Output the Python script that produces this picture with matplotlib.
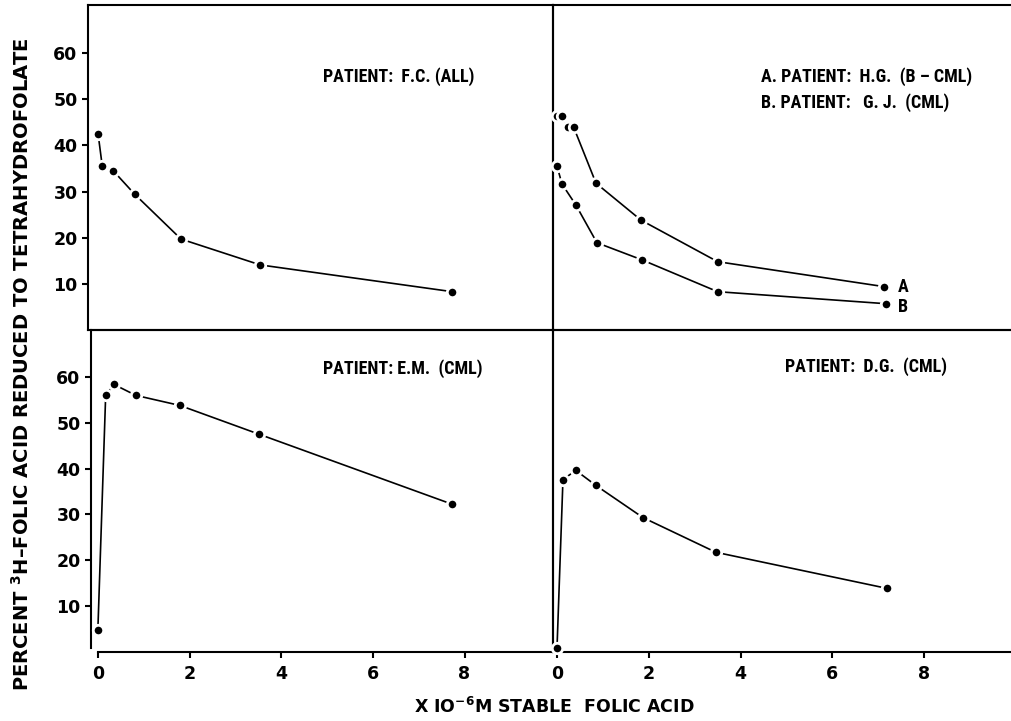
import matplotlib
matplotlib.use("Agg")
import matplotlib.pyplot as plt

# ---- data ----
fc_x = [0.0, 0.09, 0.33, 0.80, 1.81, 3.54, 7.73]
fc_y = [42.5, 35.6, 34.5, 29.4, 19.7, 14.1, 8.3]

a_x = [0.0, 0.11, 0.24, 0.36, 0.85, 1.83, 3.50, 7.12]
a_y = [46.3, 46.3, 44.0, 44.0, 31.8, 23.8, 14.8, 9.4]

b_x = [0.0, 0.11, 0.41, 0.87, 1.85, 3.50, 7.16]
b_y = [35.5, 31.6, 27.1, 18.9, 15.2, 8.3, 5.7]

em_x = [0.0, 0.17, 0.35, 0.83, 1.79, 3.52, 7.73]
em_y = [4.8, 56.0, 58.4, 56.0, 53.8, 47.5, 32.2]

dg_x = [0.0, 0.13, 0.41, 0.85, 1.87, 3.46, 7.19]
dg_y = [0.7, 37.6, 39.6, 36.3, 29.3, 21.7, 13.8]

x_ticks = [0, 2, 4, 6, 8]
y_ticks = [10, 20, 30, 40, 50, 60]

# ---- fonts ----
FAM = ['Roboto Condensed', 'DejaVu Sans']
plt.rcParams['font.family'] = FAM
plt.rcParams['mathtext.fontset'] = 'custom'
plt.rcParams['mathtext.rm'] = 'DejaVu Sans:bold'
plt.rcParams['mathtext.it'] = 'DejaVu Sans:bold'
plt.rcParams['mathtext.bf'] = 'DejaVu Sans:bold'

W, H = 1011, 721
fig = plt.figure(figsize=(W / 100, H / 100), dpi=100)


def add_ax(x0, y0, x1, y1):
    return fig.add_axes([x0 / W, 1 - y1 / H, (x1 - x0) / W, (y1 - y0) / H])


ax_tl = add_ax(88, 5, 553, 330)
ax_tr = add_ax(553, 5, 1011, 330)
ax_bl = add_ax(91, 330, 553, 651.5)
ax_br = add_ax(553, 330, 1011, 651.5)

LW_AX = 1.5
TICKFONT = dict(family='DejaVu Sans', weight='bold', size=12.5)
for ax in (ax_tl, ax_tr, ax_bl, ax_br):
    ax.set_facecolor('none')
    for s in ax.spines.values():
        s.set_linewidth(LW_AX)
        s.set_color('black')
    ax.tick_params(direction='out', length=4.5, width=1.5, colors='black', pad=3)

ax_tl.set_xlim(-0.22, 9.93)
ax_bl.set_xlim(-0.15, 9.93)
ax_tr.set_xlim(-0.087, 9.89)
ax_br.set_xlim(-0.087, 9.89)
ax_tl.set_ylim(0, 70.4)
ax_tr.set_ylim(0, 70.4)
ax_bl.set_ylim(0, 70.3)
ax_br.set_ylim(0, 70.3)

for ax in (ax_tr, ax_br):
    ax.spines['right'].set_visible(False)
    ax.set_yticks([])
for ax in (ax_tl, ax_tr):
    ax.set_xticks([])
for ax in (ax_tl, ax_bl):
    ax.set_yticks(y_ticks)
    ax.set_yticklabels([str(v) for v in y_ticks], fontdict=TICKFONT)
for ax in (ax_bl, ax_br):
    ax.set_xticks(x_ticks)
    ax.set_xticklabels([str(v) for v in x_ticks], fontdict=TICKFONT)
    ax.tick_params(axis='x', pad=5)

ax_bl.spines['bottom'].set_bounds(0, 9.93)
ax_bl.spines['left'].set_bounds(0.8, 70.3)

style = dict(color='black', lw=1.2, marker='o', markersize=7.5,
             markerfacecolor='black', markeredgecolor='white',
             markeredgewidth=2.0, clip_on=False, zorder=3)

ax_tl.plot(fc_x, fc_y, **style)
ax_tr.plot(a_x, a_y, **style)
ax_tr.plot(b_x, b_y, **style)
ax_bl.plot(em_x, em_y, **style)
ax_br.plot(dg_x, dg_y, **style)

tk = dict(fontsize=13, fontweight='bold', color='black')
ax_tl.text(0.505, 0.78, 'PATIENT:  F.C. (ALL)', transform=ax_tl.transAxes, ha='left', va='center', **tk)
ax_tr.text(0.455, 0.78, 'A. PATIENT:  H.G.  (B \u2013 CML)', transform=ax_tr.transAxes, ha='left', va='center', **tk)
ax_tr.text(0.455, 0.70, 'B. PATIENT:   G. J.  (CML)', transform=ax_tr.transAxes, ha='left', va='center', **tk)
ax_tr.text(7.42, a_y[-1], 'A', ha='left', va='center', **tk)
ax_tr.text(7.42, b_y[-1] - 0.8, 'B', ha='left', va='center', **tk)
ax_bl.text(0.502, 0.88, 'PATIENT: E.M.  (CML)', transform=ax_bl.transAxes, ha='left', va='center', **tk)
ax_br.text(0.506, 0.885, 'PATIENT:  D.G.  (CML)', transform=ax_br.transAxes, ha='left', va='center', **tk)

fig.text(22 / W, 1 - 364 / H, 'PERCENT $^{3}$H\u2013FOLIC ACID REDUCED TO TETRAHYDROFOLATE',
         rotation=90, ha='center', va='center', fontsize=14, fontweight='bold', family='DejaVu Sans')
fig.text(554 / W, 1 - 707 / H, 'X IO$^{-6}$M STABLE  FOLIC ACID',
         ha='center', va='center', fontsize=12.5, fontweight='bold', family='DejaVu Sans')

fig.savefig('out.png', dpi=100, facecolor='white')
